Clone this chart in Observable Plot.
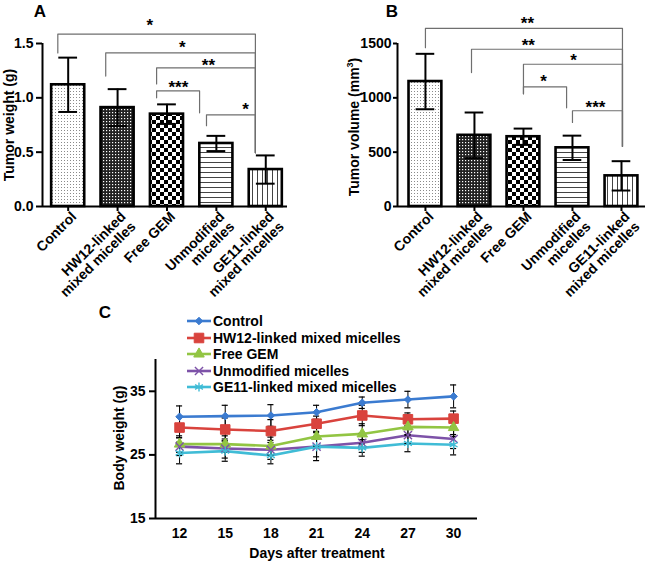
<!DOCTYPE html>
<html><head><meta charset="utf-8">
<script src="https://cdn.jsdelivr.net/npm/d3@7"></script>
<script src="https://cdn.jsdelivr.net/npm/@observablehq/plot@0.6"></script>
<style>
body{margin:0;background:#fff;font-family:"Liberation Sans",Arial,sans-serif;}
#root{position:relative;width:647px;height:561px;overflow:hidden;background:#fff}
.panel{position:absolute}
.panel svg{overflow:visible}
.lbl{position:absolute;font-weight:bold;font-size:17px;line-height:17px;transform:translate(-50%,-50%)}
.ylab{position:absolute;font-weight:bold;font-size:14px;white-space:nowrap;transform:translate(-50%,-50%) rotate(-90deg)}
.xlab{position:absolute;font-weight:bold;font-size:14px;white-space:nowrap;transform:translate(-50%,-50%)}
.ylab sup{font-size:9px;vertical-align:6px;line-height:0}
.legrow{position:absolute;height:16px;display:flex;align-items:center;font-weight:bold;font-size:14px;white-space:nowrap;transform:translateY(-50%)}
.panel g[aria-label$="tick"], .panel g[aria-label$="tick"] *{stroke-width:2px}
</style></head><body>
<div id="root">
  <svg width="0" height="0" style="position:absolute">
    <defs>
      <pattern id="pDots" patternUnits="userSpaceOnUse" width="3" height="3">
        <rect width="3" height="3" fill="#fff"/><rect x="1" y="1" width="1" height="1" fill="#8a8a8a"/>
      </pattern>
      <pattern id="pDense" patternUnits="userSpaceOnUse" width="3" height="3">
        <rect width="3" height="3" fill="#222"/><rect x="1" y="1" width="1.2" height="1.2" fill="#fff"/>
      </pattern>
      <pattern id="pCheck" patternUnits="userSpaceOnUse" width="8" height="8">
        <rect width="8" height="8" fill="#fff"/><rect width="4" height="4" fill="#000"/><rect x="4" y="4" width="4" height="4" fill="#000"/>
      </pattern>
      <pattern id="pHoriz" patternUnits="userSpaceOnUse" width="10" height="5">
        <rect width="10" height="5" fill="#fff"/><rect y="2" width="10" height="1" fill="#444"/>
      </pattern>
      <pattern id="pVert" patternUnits="userSpaceOnUse" width="5" height="10">
        <rect width="5" height="10" fill="#fff"/><rect x="2" width="1" height="10" fill="#444"/>
      </pattern>
    </defs>
  </svg>
  <div class="panel" id="pA" style="left:0;top:0"></div>
  <div class="panel" id="pB" style="left:320px;top:0"></div>
  <div class="panel" id="pC" style="left:100px;top:330px"></div>
  <div class="lbl" style="left:40px;top:11px">A</div>
  <div class="lbl" style="left:392px;top:11px">B</div>
  <div class="lbl" style="left:105px;top:312px">C</div>
  <div class="ylab" style="left:9px;top:125px">Tumor weight (g)</div>
  <div class="ylab" style="left:354px;top:127px">Tumor volume (mm<sup>3</sup>)</div>
  <div class="ylab" style="left:119px;top:438px">Body weight (g)</div>
  <div class="xlab" style="left:317px;top:553px">Days after treatment</div>
  <div id="legend"></div>
</div>
<script>
// ---------- Data: panels A & B ----------
const groups = ["Control", "HW12-linked\nmixed micelles", "Free GEM", "Unmodified\nmicelles", "GE11-linked\nmixed micelles"];
const weightMean = [1.12, 0.91, 0.85, 0.58, 0.34];
const weightSD = [0.25, 0.17, 0.09, 0.07, 0.13];
const volumeMean = [1150, 655, 642, 540, 282];
const volumeSD = [255, 210, 75, 112, 135];
const weightTicks = [0, 0.5, 1.0, 1.5];
const volumeTicks = [0, 500, 1000, 1500];
// significance brackets (category positions, data-unit levels)
const weightBrackets = [
  {x1: -0.21, x2: 3.79, y: 1.587, leftEnd: 1.413, rightEnd: 0.495},
  {x1: 0.76, x2: 3.79, y: 1.413, leftEnd: 1.20, rightEnd: 0.495},
  {x1: 1.79, x2: 3.79, y: 1.275, leftEnd: 1.128, rightEnd: 0.495},
  {x1: 1.79, x2: 2.66, y: 1.064, leftEnd: 1.0, rightEnd: 0.862},
  {x1: 2.80, x2: 3.79, y: 0.844, leftEnd: 0.743, rightEnd: 0.495}
];
const weightStars = [
  {x: 1.65, y: 1.706, label: "*"},
  {x: 2.31, y: 1.495, label: "*"},
  {x: 2.84, y: 1.33, label: "**"},
  {x: 2.23, y: 1.128, label: "***"},
  {x: 3.59, y: 0.927, label: "*"}
];
const volumeBrackets = [
  {x1: 0.0, x2: 4.02, y: 1639, leftEnd: 1461, rightEnd: 553},
  {x1: 0.94, x2: 4.02, y: 1447, leftEnd: 1232, rightEnd: 553},
  {x1: 2.0, x2: 4.02, y: 1309, leftEnd: 1037, rightEnd: 553},
  {x1: 2.0, x2: 2.88, y: 1101, leftEnd: 1037, rightEnd: 908},
  {x1: 3.0, x2: 4.02, y: 881, leftEnd: 773, rightEnd: 553}
];
const volumeStars = [
  {x: 2.08, y: 1716, label: "**"},
  {x: 2.10, y: 1517, label: "**"},
  {x: 3.02, y: 1376, label: "*"},
  {x: 2.41, y: 1183, label: "*"},
  {x: 3.47, y: 945, label: "***"}
];

// ---------- Data: panel C ----------
const days = [12, 15, 18, 21, 24, 27, 30];
const seriesNames = ["Control", "HW12-linked mixed micelles", "Free GEM", "Unmodified micelles", "GE11-linked mixed micelles"];
const controlBW = [31.0, 31.1, 31.2, 31.7, 33.2, 33.7, 34.2];
const hw12BW = [29.3, 29.0, 28.75, 29.9, 31.2, 30.6, 30.7];
const gemBW = [26.7, 26.7, 26.4, 27.9, 28.3, 29.4, 29.3];
const unmodBW = [26.3, 26.0, 25.8, 26.3, 26.9, 28.1, 27.5];
const ge11BW = [25.3, 25.6, 24.9, 26.3, 26.1, 26.8, 26.6];
const controlSD = [1.7, 1.7, 1.7, 1.1, 0.9, 1.3, 1.8];
const hw12SD = [1.6, 1.8, 1.8, 1.2, 1.6, 1.0, 1.2];
const gemSD = [1.3, 1.3, 1.4, 1.5, 1.6, 1.2, 1.4];
const unmodSD = [1.4, 1.5, 1.5, 1.6, 1.5, 1.3, 1.5];
const ge11SD = [1.7, 1.6, 1.3, 2.2, 1.3, 1.3, 1.6];
const bwTicks = [15, 25, 35];

// ---------- Styles ----------
const patternIds = ["pDots", "pDense", "pCheck", "pHoriz", "pVert"];
const seriesColors = ["#3b7bd0", "#d9433d", "#92c543", "#7d52a8", "#40bcd6"];
const seriesSymbols = ["diamond2", "square", "triangle", "times", "asterisk"];
const seriesR = [3.4, 5.4, 3.9, 3.8, 4.3];
const barHalf = 0.335, capHalf = 0.19, capHalfDay = 0.2;
const FONT = "'Liberation Sans', Arial, sans-serif";

function barPanel(el, {means, sds, brackets, stars, yDomain, yTicks, yFormat, xDomain, width, marginLeft, marginRight, tickSize, tickPadding}) {
  const rows = groups.map((g, i) => ({i, g, mean: means[i], sd: sds[i], fill: `url(#${patternIds[i]})`}));
  const bracketPts = brackets.flatMap((b, k) => [
    {k, x: b.x1, y: b.leftEnd}, {k, x: b.x1, y: b.y}, {k, x: b.x2, y: b.y}, {k, x: b.x2, y: b.rightEnd}
  ]);
  const svg = Plot.plot({
    width, height: 300, marginTop: 43, marginBottom: 94, marginLeft, marginRight,
    style: {fontFamily: FONT, fontSize: "14px", fontWeight: "bold", color: "black", background: "transparent", overflow: "visible"},
    color: {type: "identity"},
    x: {domain: xDomain, ticks: groups.map((_, i) => i), tickFormat: () => "", tickSize: 5, label: null},
    y: {domain: yDomain, ticks: yTicks, tickFormat: yFormat, tickSize, tickPadding, label: null},
    marks: [
      Plot.rectY(rows, {x1: d => d.i - barHalf, x2: d => d.i + barHalf, y: "mean", fill: "fill", stroke: "black", strokeWidth: 2.6}),
      Plot.ruleX(rows, {x: "i", y1: d => d.mean - d.sd, y2: d => d.mean + d.sd, stroke: "black", strokeWidth: 2}),
      Plot.ruleY(rows, {x1: d => d.i - capHalf, x2: d => d.i + capHalf, y: d => d.mean + d.sd, stroke: "black", strokeWidth: 2}),
      Plot.ruleY(rows, {x1: d => d.i - capHalf, x2: d => d.i + capHalf, y: d => d.mean - d.sd, stroke: "black", strokeWidth: 2}),
      Plot.line(bracketPts, {x: "x", y: "y", z: "k", stroke: "#6f6f6f", strokeWidth: 1.2}),
      Plot.text(stars, {x: "x", y: "y", text: "label", fontSize: 17, fontWeight: "bold", dy: 4, fill: "black"}),
      Plot.ruleY([yDomain[0]], {stroke: "black", strokeWidth: 2}),
      Plot.ruleX([xDomain[0]], {stroke: "black", strokeWidth: 2}),
      Plot.text(rows, {x: "i", text: "g", frameAnchor: "bottom", rotate: -45, textAnchor: "end", lineAnchor: "top", dx: 2, dy: 4, fontSize: 14, fontWeight: "bold", fill: "black"})
    ]
  });
  el.appendChild(svg);
}

barPanel(document.getElementById("pA"), {
  means: weightMean, sds: weightSD, brackets: weightBrackets, stars: weightStars,
  yDomain: [0, 1.5], yTicks: weightTicks, yFormat: d3.format(".1f"),
  xDomain: [-0.52, 4.44], width: 320, marginLeft: 42, marginRight: 33, tickSize: 6, tickPadding: 3
});
barPanel(document.getElementById("pB"), {
  means: volumeMean, sds: volumeSD, brackets: volumeBrackets, stars: volumeStars,
  yDomain: [0, 1500], yTicks: volumeTicks, yFormat: d3.format("d"),
  xDomain: [-0.57, 4.49], width: 327, marginLeft: 77, marginRight: 2, tickSize: 4, tickPadding: 2
});

// ---------- Panel C ----------
const bwValues = [controlBW, hw12BW, gemBW, unmodBW, ge11BW];
const bwSDs = [controlSD, hw12SD, gemSD, unmodSD, ge11SD];
const rowsC = seriesNames.flatMap((s, k) => days.map((d, j) => ({series: s, k, day: d, value: bwValues[k][j], sd: bwSDs[k][j]})));
const xDomC = [10.42, 31.57], yDomC = [15, 40];
const svgC = Plot.plot({
  width: 420, height: 231, marginTop: 29, marginBottom: 43, marginLeft: 55, marginRight: 43,
  style: {fontFamily: FONT, fontSize: "14px", fontWeight: "bold", color: "black", background: "transparent", overflow: "visible"},
  x: {domain: xDomC, ticks: days, tickSize: 0, tickPadding: 10, label: null},
  y: {domain: yDomC, ticks: bwTicks, tickSize: 6, tickPadding: 4, label: null},
  color: {domain: seriesNames, range: seriesColors},
  marks: [
    Plot.line(rowsC, {x: "day", y: "value", z: "series", stroke: "series", strokeWidth: 2.6}),
    Plot.ruleX(rowsC, {x: "day", y1: d => d.value - d.sd, y2: d => d.value + d.sd, stroke: "black", strokeWidth: 1}),
    Plot.ruleY(rowsC, {x1: d => d.day - capHalfDay, x2: d => d.day + capHalfDay, y: d => d.value + d.sd, stroke: "black", strokeWidth: 1.2}),
    Plot.ruleY(rowsC, {x1: d => d.day - capHalfDay, x2: d => d.day + capHalfDay, y: d => d.value - d.sd, stroke: "black", strokeWidth: 1.2}),
    ...seriesNames.map((s, k) => Plot.dot(rowsC.filter(d => d.k === k), {
      x: "day", y: "value", symbol: seriesSymbols[k], r: seriesR[k],
      fill: seriesColors[k], stroke: seriesColors[k], strokeWidth: k >= 3 ? 1.4 : 1
    })),
    Plot.ruleY([yDomC[0]], {stroke: "black", strokeWidth: 2}),
    Plot.ruleX([xDomC[0]], {stroke: "black", strokeWidth: 2})
  ]
});
document.getElementById("pC").appendChild(svgC);

// ---------- Legend for C ----------
const symMap = {diamond2: d3.symbolDiamond2, square: d3.symbolSquare, triangle: d3.symbolTriangle, times: d3.symbolTimes, asterisk: d3.symbolAsterisk};
const legend = d3.select("#legend");
seriesNames.forEach((s, k) => {
  const row = legend.append("div").attr("class", "legrow")
    .style("left", "187px").style("top", (321 + k * 16.5) + "px");
  const sv = row.append("svg").attr("width", 25).attr("height", 14).style("overflow", "visible");
  sv.append("line").attr("x1", 0).attr("x2", 24).attr("y1", 7).attr("y2", 7)
    .attr("stroke", seriesColors[k]).attr("stroke-width", 2.6);
  sv.append("path").attr("transform", "translate(12,7)")
    .attr("d", d3.symbol(symMap[seriesSymbols[k]], Math.PI * seriesR[k] * seriesR[k])())
    .attr("fill", seriesColors[k]).attr("stroke", seriesColors[k]).attr("stroke-width", k >= 3 ? 1.4 : 1);
  row.append("span").text(s).style("margin-left", "1px");
});
</script>
</body></html>
